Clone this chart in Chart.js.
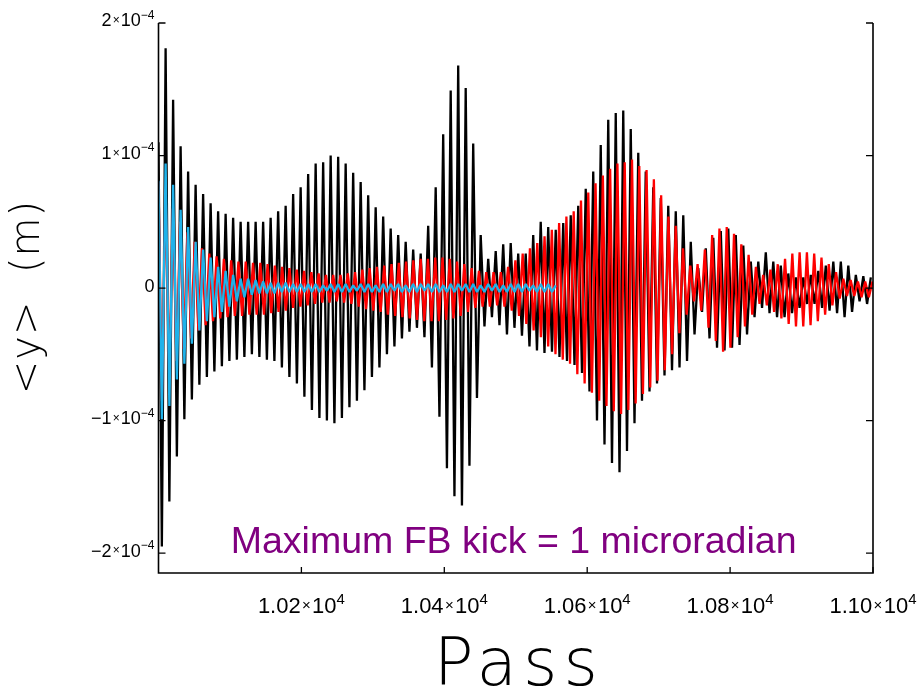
<!DOCTYPE html>
<html>
<head>
<meta charset="utf-8">
<script src="https://cdn.jsdelivr.net/npm/chart.js@4.4.1/dist/chart.umd.min.js"></script>
<style>
  html, body { margin: 0; padding: 0; background: #fff; }
  #wrap { width: 924px; height: 688px; }
</style>
</head>
<body>
<div id="wrap"><canvas id="passChart" width="924" height="688"></canvas></div>
<script>
// turning points of <y> in micrometres, one top and one trough per betatron period
const MICRON = 1e-6;

// no feedback (black)
const blackStart = 110;
const blackFirstPass = 10004.7;
const blackHalfPeriod = 5.25;
const blackTop = [
  181, 142, 107, 88, 78, 71, 64, 58, 56, 53, 50, 50, 50, 50, 53, 58, 62, 71, 76, 86,
  94, 95, 100, 99, 94, 87, 80, 70, 61, 54, 45, 40, 35, 29, 26, 47, 76, 116, 149, 168,
  151, 109, 40, 22, 28, 33, 34, 26, 26, 40, 50, 46, 44, 49, 55, 62, 75, 88, 108, 127,
  132, 134, 120, 102, 88, 76, 68, 62, 58, 55, 35, 15, 30, 38, 43, 45, 40, 32, 20, 20,
  27, 20, 17, 11, 8, 8, 10, 13, 17, 20, 20, 17, 10, 9, 8
];
const blackTrough = [
  -195, -161, -127, -99, -84, -73, -67, -63, -59, -55, -54, -52, -50, -52, -54, -55, -60, -67, -72, -82,
  -92, -98, -100, -102, -98, -90, -85, -77, -67, -60, -50, -44, -38, -33, -30, -37, -60, -97, -136, -157,
  -164, -134, -83, -29, -22, -28, -35, -30, -36, -44, -47, -49, -48, -52, -55, -58, -64, -78, -100, -118,
  -132, -139, -123, -102, -85, -78, -72, -66, -62, -60, -55, -35, -18, -38, -45, -47, -45, -43, -35, -22,
  -15, -19, -22, -22, -19, -15, -12, -12, -15, -17, -19, -22, -18, -10, -12
];

// feedback run (red)
const redStart = 80;
const redFirstPass = 10004.8;
const redHalfPeriod = 5.1;
const redTop = [
  75, 60, 50, 42, 35, 30, 26, 24, 22, 21, 20, 20, 19, 19, 18, 17, 16, 15, 14, 13,
  12, 11, 10, 10, 10, 11, 12, 14, 15, 16, 17, 18, 19, 20, 21, 22, 22, 23, 23, 22,
  20, 18, 15, 13, 12, 12, 12, 16, 21, 26, 30, 34, 39, 44, 49, 54, 58, 66, 72, 79,
  85, 90, 94, 95, 97, 92, 89, 82, 70, 54, 47, 30, 17, 18, 29, 40, 45, 46, 41, 33,
  25, 16, 10, 14, 18, 22, 26, 27, 27, 26, 23, 18, 12, 7, 6, 5, 5, 5
];
const redTrough = [
  -85, -68, -55, -46, -38, -32, -28, -25, -23, -22, -21, -21, -20, -20, -20, -19, -18, -17, -15, -14,
  -13, -12, -11, -11, -10, -11, -12, -14, -16, -17, -18, -20, -21, -22, -23, -24, -25, -25, -25, -24,
  -23, -21, -18, -15, -14, -14, -13, -14, -17, -21, -27, -32, -37, -44, -50, -54, -57, -65, -72, -79,
  -85, -89, -93, -95, -92, -87, -80, -75, -70, -62, -50, -34, -20, -10, -17, -30, -40, -48, -45, -37,
  -29, -20, -12, -13, -18, -23, -27, -29, -29, -28, -25, -20, -13, -8, -6, -6, -7, -7
];

// feedback run (cyan), stops at pass 10560
const cyanStart = 81;
const cyanFirstPass = 10004.7;
const cyanHalfPeriod = 5.25;
const cyanTop = [
  94, 78, 59, 46, 35, 29, 23, 16, 13, 10, 7, 7, 6, 5, 4, 4, 4, 3, 3, 3,
  3, 2, 3, 3, 3, 2, 3, 3, 2, 3, 3, 3, 2, 3, 3, 3, 3, 2, 3, 3,
  3, 3, 2, 3, 3, 2, 3, 3, 3, 2, 3, 3, 2
];
const cyanTrough = [
  -99, -89, -69, -57, -42, -32, -25, -22, -18, -14, -10, -7, -5, -4, -4, -4, -3, -3, -3, -3,
  -3, -3, -2, -3, -3, -3, -2, -3, -3, -3, -3, -2, -3, -3, -3, -2, -3, -3, -3, -3,
  -2, -3, -3, -3, -2, -3, -3, -3, -3, -2, -3, -3, -3
];

// axes
const passMin = 10000;
const passMax = 11000;
const yMin = -2.15e-4;
const yMax = 2e-4;
const xTickPasses = [10200, 10400, 10600, 10800, 11000];
const xTickMantissa = ['1.02', '1.04', '1.06', '1.08', '1.10'];
const yTickValues = [-2e-4, -1e-4, 0, 1e-4, 2e-4];
const yTickMantissa = ['\u22122', '\u22121', '0', '1', '2'];

function turningPoints(startValue, firstPass, half, troughs, tops) {
  const pts = [{ x: passMin, y: startValue * MICRON }];
  troughs.forEach((t, k) => {
    pts.push({ x: firstPass + 2 * k * half, y: t * MICRON });
    pts.push({ x: firstPass + (2 * k + 1) * half, y: tops[k] * MICRON });
  });
  return pts;
}

const SANS = '"Liberation Sans", Arial, sans-serif';
const THIN = '"DejaVu Sans", "Open Sans", sans-serif';

// mantissa x 10^exp with small raised parts
function drawSci(ctx, mant, exp, x, baseline, size, align) {
  const big = size + 'px ' + SANS;
  const small = Math.round(size * 0.66) + 'px ' + SANS;
  if (exp === null) {
    ctx.font = big;
    const w = ctx.measureText(mant).width;
    ctx.fillText(mant, align === 'right' ? x - w : x - w / 2, baseline);
    return;
  }
  ctx.font = big;
  const wM = ctx.measureText(mant).width;
  const w10 = ctx.measureText('10').width;
  ctx.font = small;
  const wX = ctx.measureText('\u00d7').width;
  const wE = ctx.measureText(exp).width;
  const gap = size * 0.06;
  const total = wM + gap + wX + gap + w10 + wE;
  let cx = align === 'right' ? x - total : x - total / 2;
  ctx.font = big;
  ctx.fillText(mant, cx, baseline);
  cx += wM + gap;
  ctx.font = small;
  ctx.fillText('\u00d7', cx, baseline - size * 0.12);
  cx += wX + gap;
  ctx.font = big;
  ctx.fillText('10', cx, baseline);
  cx += w10;
  ctx.font = small;
  ctx.fillText(exp, cx, baseline - size * 0.42);
}

const framePlugin = {
  id: 'frame',
  afterDraw(chart) {
    const { ctx, chartArea: a, scales: { x, y } } = chart;
    ctx.save();
    ctx.strokeStyle = '#000';
    ctx.lineWidth = 1.6;
    ctx.beginPath();
    ctx.moveTo(a.left, a.top);
    ctx.lineTo(a.left, a.bottom);
    ctx.lineTo(a.right, a.bottom);
    ctx.lineTo(a.right, a.top);
    ctx.stroke();

    // inward ticks
    ctx.lineWidth = 1.3;
    ctx.beginPath();
    yTickValues.forEach(v => {
      const py = y.getPixelForValue(v);
      ctx.moveTo(a.left, py); ctx.lineTo(a.left + 7, py);
      ctx.moveTo(a.right, py); ctx.lineTo(a.right - 7, py);
    });
    xTickPasses.forEach(v => {
      const px = x.getPixelForValue(v);
      ctx.moveTo(px, a.bottom); ctx.lineTo(px, a.bottom - 6);
    });
    ctx.stroke();

    // tick labels
    ctx.fillStyle = '#000';
    ctx.textBaseline = 'alphabetic';
    ctx.textAlign = 'left';
    yTickValues.forEach((v, i) => {
      const py = y.getPixelForValue(v);
      const exp = v === 0 ? null : '\u22124';
      drawSci(ctx, yTickMantissa[i], exp, a.left - 4, py + 18 * 0.36 - 3, 18, 'right');
    });
    xTickPasses.forEach((v, i) => {
      const px = x.getPixelForValue(v);
      drawSci(ctx, xTickMantissa[i], '4', px, a.bottom + 40, 22, 'center');
    });

    // axis titles
    ctx.font = '200 66px ' + THIN;
    ctx.textAlign = 'center';
    ctx.letterSpacing = '6px';
    ctx.fillText('Pass', (a.left + a.right) / 2 + 3, 685);

    ctx.save();
    ctx.translate(39, 297);
    ctx.rotate(-Math.PI / 2);
    ctx.font = '200 40px ' + THIN;
    ctx.letterSpacing = '1px';
    ctx.fillText('<y>  (m)', 0, 0);
    ctx.restore();
    ctx.letterSpacing = '0px';

    // run note
    ctx.font = '37.5px ' + SANS;
    ctx.fillStyle = '#800080';
    ctx.textAlign = 'center';
    ctx.fillText('Maximum FB kick = 1 microradian', x.getPixelForValue(10497), y.getPixelForValue(-2.0e-4));
    ctx.restore();
  }
};

const lineStyle = {
  borderWidth: 2.3,
  pointRadius: 0,
  tension: 0,
  fill: false,
  borderJoinStyle: 'bevel'
};

new Chart(document.getElementById('passChart'), {
  type: 'line',
  data: {
    datasets: [
      Object.assign({ label: 'cyan', data: turningPoints(cyanStart, cyanFirstPass, cyanHalfPeriod, cyanTrough, cyanTop), borderColor: '#1fb2ea' }, lineStyle),
      Object.assign({ label: 'red', data: turningPoints(redStart, redFirstPass, redHalfPeriod, redTrough, redTop), borderColor: '#ff0000' }, lineStyle),
      Object.assign({ label: 'black', data: turningPoints(blackStart, blackFirstPass, blackHalfPeriod, blackTrough, blackTop), borderColor: '#000000' }, lineStyle)
    ]
  },
  options: {
    responsive: false,
    devicePixelRatio: 1,
    animation: false,
    parsing: false,
    layout: { padding: { left: 0, right: 51, top: 23, bottom: 0 } },
    plugins: { legend: { display: false }, tooltip: { enabled: false } },
    scales: {
      x: {
        type: 'linear',
        min: passMin,
        max: passMax,
        grid: { display: false },
        border: { display: false },
        ticks: { display: false },
        afterFit: s => { s.height = 115; }
      },
      y: {
        type: 'linear',
        min: yMin,
        max: yMax,
        grid: { display: false },
        border: { display: false },
        ticks: { display: false },
        afterFit: s => { s.width = 158.5; }
      }
    }
  },
  plugins: [framePlugin]
});
</script>
</body>
</html>
